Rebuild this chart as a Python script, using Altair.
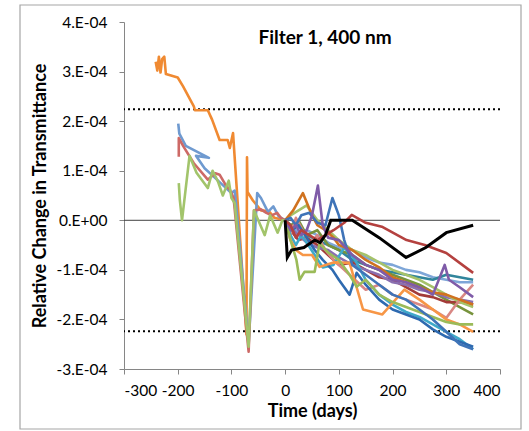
import altair as alt
import pandas as pd

# ---------------- data (values in units of 1e-4) ----------------
pre_orange_days = [-241, -238, -235, -232, -229, -225, -222, -200, -190, -180, -170, -168, -144, -136, -122, -107, -103, -97, -72, -71, -70, -60, -45, -30, -20, 0]
pre_orange_vals = [3.2, 3.02, 3.3, 2.98, 3.25, 3.3, 2.95, 2.88, 2.7, 2.5, 2.3, 2.22, 2.22, 2.03, 1.62, 1.62, 1.46, 1.76, -2.3, 1.27, 0.57, 0.4, 0.2, 0.18, 0.05, 0]

pre_blue_days = [-199, -197, -185, -142, -166, -150, -130, -115, -100, -94, -92, -68, -52, -45, -32, -22, -12, 0]
pre_blue_vals = [1.95, 1.75, 1.5, 1.26, 1.3, 1.05, 0.85, 0.7, 0.55, 0.6, 0.4, -2.5, 0.55, 0.45, 0.17, 0.28, 0.08, 0]

pre_red_days = [-198, -198, -190, -170, -144, -130, -122, -110, -103, -96, -68, -58, -45, -35, -25, -15, -8, 0]
pre_red_vals = [1.28, 1.66, 1.5, 1.15, 0.82, 0.95, 0.92, 0.7, 0.62, 0.45, -2.65, 0.2, 0.22, 0.15, 0.1, 0.15, 0.05, 0]

pre_green_days = [-198, -196, -192, -178, -165, -144, -135, -125, -116, -105, -100, -94, -68, -58, -50, -38, -28, -14, -5, 0]
pre_green_vals = [0.75, 0.4, 0.0, 1.3, 0.96, 0.65, 1.0, 0.78, 0.5, 0.8, 0.45, 0.35, -2.55, 0.2, 0.0, -0.3, 0.1, -0.25, 0.0, 0]

grid_days = [0, 10, 25, 40, 60, 80, 100, 125, 150, 175, 200, 225, 250, 275, 300, 325, 350]

red_up_days = [0, 10, 20, 30, 45, 60, 75, 90, 110, 124, 150, 180, 226, 260, 300, 350]
red_up_vals = [0, -0.1, -0.35, -0.2, -0.3, -0.4, -0.3, -0.2, -0.05, 0.11, -0.05, -0.13, -0.4, -0.5, -0.66, -1.06]

purple_days = [0, 10, 20, 30, 40, 50, 61, 70, 80, 100, 125, 150, 175, 200, 225, 250, 275, 297, 305, 325, 350]
purple_vals = [0, -0.2, -0.1, -0.3, -0.2, 0.1, 0.7, -0.1, -0.35, -0.4, -0.7, -0.9, -1.0, -1.2, -1.25, -1.35, -1.5, -0.9, -1.2, -1.35, -1.55]

blue_a_days = [0, 10, 20, 30, 45, 60, 75, 88, 100, 110, 125, 150, 175, 200, 225, 250, 275, 300, 325, 350]
blue_a_vals = [0, 0.05, -0.1, 0.1, 0.15, -0.05, -0.1, 0.45, 0.1, -0.4, -0.9, -1.1, -1.3, -1.5, -1.6, -1.8, -2.0, -2.25, -2.5, -2.6]

orange_a_days = [0, 15, 33, 50, 60, 75, 90, 100, 125, 150, 175, 200, 225, 250, 275, 300, 325, 350]
orange_a_vals = [0, 0.2, 0.55, 0.1, -0.1, -0.2, -0.35, -0.5, -0.6, -0.8, -0.95, -1.15, -1.25, -1.35, -1.45, -1.5, -1.6, -1.7]

green_a_days = [0, 10, 21, 27, 36, 55, 64, 80, 100, 120, 133, 150, 175, 200, 225, 250, 275, 300, 325, 350]
green_a_vals = [0, -0.4, -0.8, -1.2, -1.04, -1.04, -0.46, -0.65, -0.8, -1.1, -1.34, -1.2, -1.5, -1.65, -1.75, -1.85, -1.95, -2.05, -2.1, -2.1]

orange_b_days = [0, 10, 20, 33, 50, 64, 90, 120, 145, 181, 222, 250, 275, 300, 325, 350]
orange_b_vals = [0, -0.4, -0.6, -0.7, -0.7, -0.94, -0.85, -0.86, -1.8, -1.9, -1.4, -1.6, -1.8, -2.0, -2.1, -2.25]

cyan_days = [0, 10, 20, 30, 40, 55, 70, 90, 110, 130, 150, 175, 200, 225, 250, 275, 300, 325, 350]
cyan_vals = [0, -0.3, -0.5, -0.3, -0.45, -0.7, -0.95, -0.9, -0.55, -0.8, -1.2, -1.5, -1.7, -1.85, -1.95, -2.1, -2.25, -2.4, -2.6]

lightblue_vals = [0, -0.1, -0.25, -0.2, -0.3, -0.45, -0.55, -0.6, -0.75, -0.85, -0.9, -1.0, -1.05, -1.15, -1.2, -1.25, -1.25]
teal_vals = [0, -0.2, -0.1, -0.3, -0.4, -0.5, -0.6, -0.8, -0.9, -1.0, -1.05, -1.1, -1.15, -1.2, -1.1, -1.15, -1.2]
olive_vals = [0, -0.1, 0.0, -0.3, -0.2, -0.5, -0.6, -0.7, -0.9, -1.0, -1.1, -1.2, -1.3, -1.45, -1.6, -1.75, -1.9]
darkred_vals = [0, -0.2, -0.4, -0.35, -0.5, -0.7, -0.9, -0.85, -1.0, -1.15, -1.2, -1.35, -1.5, -1.55, -1.65, -1.65, -1.7]
purple_b_vals = [0, -0.15, -0.3, -0.45, -0.55, -0.6, -0.75, -0.9, -1.0, -1.1, -1.25, -1.3, -1.4, -1.45, -1.55, -1.6, -1.65]
green_c_vals = [0, 0.1, 0.2, 0.3, 0.0, -0.2, -0.4, -0.6, -0.7, -0.85, -1.0, -1.1, -1.2, -1.35, -1.5, -1.65, -1.75]

pink_days = [0, 10, 20, 30, 45, 60, 75, 90, 110, 130, 150, 175, 200, 225, 250, 275, 300, 325, 350]
pink_vals = [0, -0.3, 0.05, -0.15, -0.5, -0.3, -0.6, -0.8, -1.0, -1.2, -1.4, -1.3, -1.5, -1.6, -1.7, -1.8, -1.97, -1.6, -1.3]

blue_b_days = [0, 12, 25, 40, 55, 70, 88, 100, 120, 133, 150, 175, 200, 225, 250, 275, 300, 325, 350]
blue_b_vals = [0, -0.2, -0.1, -0.35, -0.6, -0.8, -1.0, -1.2, -1.5, -1.06, -1.3, -1.6, -1.8, -1.9, -2.0, -2.2, -2.35, -2.45, -2.55]

black_days = [0, 4, 12, 35, 55, 65, 75, 85, 125, 175, 225, 262, 300, 350]
black_vals = [0, -0.75, -0.6, -0.55, -0.4, -0.45, -0.3, 0, 0, -0.35, -0.75, -0.55, -0.25, -0.1]

series = [
    ("pre orange", "#F08A32", pre_orange_days, pre_orange_vals),
    ("pre blue", "#6F9AD0", pre_blue_days, pre_blue_vals),
    ("pre red", "#CD6966", pre_red_days, pre_red_vals),
    ("pre green", "#A2C46B", pre_green_days, pre_green_vals),
    ("light blue", "#7EA6D8", grid_days, lightblue_vals),
    ("teal", "#31859C", grid_days, teal_vals),
    ("olive", "#77933C", grid_days, olive_vals),
    ("dark red", "#A33B38", grid_days, darkred_vals),
    ("purple b", "#8A6FB0", grid_days, purple_b_vals),
    ("green c", "#A5C26A", grid_days, green_c_vals),
    ("pink", "#D98784", pink_days, pink_vals),
    ("cyan", "#3FA9C9", cyan_days, cyan_vals),
    ("blue b", "#2E6AB0", blue_b_days, blue_b_vals),
    ("orange b", "#F79646", orange_b_days, orange_b_vals),
    ("green a", "#9BBB59", green_a_days, green_a_vals),
    ("orange a", "#D0721F", orange_a_days, orange_a_vals),
    ("blue a", "#3F74B8", blue_a_days, blue_a_vals),
    ("purple", "#7F5BA8", purple_days, purple_vals),
    ("red up", "#B4413F", red_up_days, red_up_vals),
]

limit_vals = [2.24e-4, -2.24e-4]
chart_title = "Filter 1, 400 nm"

# ---------------- build tables ----------------
rows = []
for name, _, ds, vs in series:
    for i, (d, v) in enumerate(zip(ds, vs)):
        rows.append({"series": name, "day": d, "val": v * 1e-4, "idx": i})
df = pd.DataFrame(rows)
black_df = pd.DataFrame({"day": black_days, "val": [v * 1e-4 for v in black_vals], "idx": list(range(len(black_days)))})

FONT = "Lato"
W, H = 376, 347

xscale = alt.Scale(domain=[-300, 400], nice=False, zero=False)
yscale = alt.Scale(domain=[-3e-4, 4e-4], nice=False, zero=False)

xaxis = alt.Axis(
    values=list(range(-300, 401, 100)), title="Time (days)", labelExpr="'' + datum.value",
    titleY=42, titleBaseline="middle", labelPadding=9,
)
yaxis = alt.Axis(
    values=[-3e-4, -2e-4, -1e-4, 0, 1e-4, 2e-4, 3e-4, 4e-4],
    title="Relative Change in Transmittance",
    labelExpr="datum.value == 0 ? '0.E+00' : round(datum.value * 10000) + '.E-04'",
    titleX=-84, titleY=H / 2, titleAngle=-90, titleAlign="center", titleBaseline="middle",
    labelPadding=12,
)

lines = alt.Chart(df).mark_line(strokeWidth=2.6, strokeJoin="round").encode(
    x=alt.X("day:Q", scale=xscale, axis=xaxis),
    y=alt.Y("val:Q", scale=yscale, axis=yaxis),
    color=alt.Color("series:N", scale=alt.Scale(domain=[s[0] for s in series], range=[s[1] for s in series]), legend=None),
    order=alt.Order("idx:Q"),
)

black = alt.Chart(black_df).mark_line(strokeWidth=3, color="black").encode(
    x=alt.X("day:Q", scale=xscale), y=alt.Y("val:Q", scale=yscale), order=alt.Order("idx:Q")
)

zero = alt.Chart(pd.DataFrame({"y": [0.0]})).mark_rule(color="#404040", strokeWidth=1).encode(y=alt.Y("y:Q", scale=yscale))
limits = alt.Chart(pd.DataFrame({"y": limit_vals})).mark_rule(color="black", strokeWidth=2, strokeDash=[2, 3]).encode(
    y=alt.Y("y:Q", scale=yscale)
)

title = alt.Chart(pd.DataFrame({"t": [chart_title]})).mark_text(
    font=FONT, fontSize=19, fontWeight="bold", color="black", align="center", baseline="middle"
).encode(text="t:N", x=alt.value(201), y=alt.value(16))

frame = alt.Chart(pd.DataFrame({"a": [0]})).mark_rect(fillOpacity=0, stroke="#A6A6A6", strokeWidth=1.2).encode(
    x=alt.value(-104), x2=alt.value(397), y=alt.value(-17), y2=alt.value(407)
)

chart = alt.layer(frame, zero, limits, lines, black, title).properties(
    width=W, height=H,
    autosize=alt.AutoSizeParams(type="none"),
    padding={"left": 124, "top": 22, "right": 29, "bottom": 62},
    background="white",
).configure_view(strokeWidth=0).configure_axis(
    grid=False, domainColor="#868686", tickColor="#868686", tickSize=5,
    labelFont=FONT, labelFontSize=15.5, labelColor="black",
    titleFont=FONT, titleFontSize=18, titleFontWeight="bold", titleColor="black",
)

chart.save("out.html", embed_options={"renderer": "svg", "actions": False})
